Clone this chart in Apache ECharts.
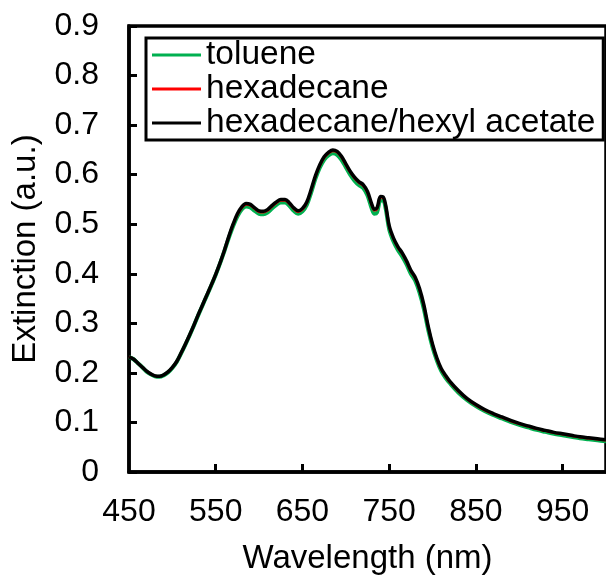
<!DOCTYPE html>
<html>
<head>
<meta charset="utf-8">
<script src="https://cdn.jsdelivr.net/npm/echarts@6/dist/echarts.min.js"></script>
<style>
  html, body { margin: 0; padding: 0; background: #fff; }
  #chart { width: 606px; height: 580px; }
</style>
</head>
<body>
<div id="chart"></div>
<script>
// Extinction spectra of the same nanoparticle batch dispersed in three solvents
const wavelengths = [
  450, 455, 460, 465, 470, 475, 480, 485, 490, 495,
  500, 505, 510, 515, 520, 525, 530, 535, 540, 545,
  550, 555, 560, 565, 570, 575, 580, 585, 590, 595,
  600, 605, 610, 615, 620, 625, 630, 635, 640, 645,
  650, 655, 660, 665, 670, 675, 680, 685, 690, 695,
  700, 705, 710, 715, 720, 725, 730, 733, 736, 740,
  743, 746, 750, 755, 760, 765, 770, 775, 780, 785,
  790, 795, 800, 805, 810, 815, 820, 830, 840, 850,
  860, 870, 880, 890, 900, 910, 920, 930, 940, 950,
  960, 970, 980, 990, 1000
];

const toluene = [
  0.232, 0.228, 0.220, 0.212, 0.203, 0.197, 0.193, 0.192, 0.195, 0.201,
  0.210, 0.222, 0.239, 0.257, 0.276, 0.296, 0.317, 0.337, 0.357, 0.377,
  0.398, 0.421, 0.446, 0.472, 0.496, 0.516, 0.530, 0.536, 0.534, 0.527,
  0.521, 0.520, 0.524, 0.532, 0.539, 0.544, 0.544, 0.537, 0.527, 0.521,
  0.526, 0.539, 0.564, 0.592, 0.614, 0.630, 0.639, 0.643, 0.640, 0.630,
  0.615, 0.600, 0.588, 0.579, 0.573, 0.558, 0.531, 0.521, 0.524, 0.548,
  0.548, 0.531, 0.490, 0.465, 0.448, 0.435, 0.419, 0.400, 0.386, 0.362,
  0.329, 0.287, 0.252, 0.225, 0.204, 0.190, 0.179, 0.160, 0.145, 0.133,
  0.123, 0.115, 0.108, 0.101, 0.095, 0.090, 0.085, 0.081, 0.077, 0.074,
  0.071, 0.068, 0.066, 0.064, 0.062
];

const hexadecane = [
  0.232, 0.228, 0.220, 0.212, 0.204, 0.198, 0.194, 0.193, 0.196, 0.202,
  0.211, 0.223, 0.240, 0.258, 0.277, 0.297, 0.318, 0.338, 0.358, 0.378,
  0.399, 0.422, 0.447, 0.474, 0.499, 0.519, 0.533, 0.540, 0.538, 0.531,
  0.525, 0.524, 0.528, 0.536, 0.543, 0.548, 0.548, 0.541, 0.531, 0.525,
  0.530, 0.543, 0.568, 0.596, 0.618, 0.634, 0.643, 0.648, 0.645, 0.635,
  0.620, 0.605, 0.593, 0.584, 0.578, 0.564, 0.538, 0.528, 0.531, 0.554,
  0.553, 0.536, 0.495, 0.470, 0.453, 0.440, 0.424, 0.405, 0.391, 0.368,
  0.335, 0.292, 0.256, 0.228, 0.207, 0.193, 0.181, 0.162, 0.147, 0.135,
  0.125, 0.117, 0.110, 0.103, 0.097, 0.092, 0.087, 0.083, 0.079, 0.076,
  0.073, 0.070, 0.068, 0.066, 0.064
];

const hexadecaneHexylAcetate = [
  0.232, 0.228, 0.220, 0.212, 0.204, 0.198, 0.194, 0.193, 0.196, 0.202,
  0.211, 0.223, 0.240, 0.258, 0.277, 0.297, 0.318, 0.338, 0.358, 0.378,
  0.399, 0.422, 0.447, 0.475, 0.500, 0.521, 0.535, 0.542, 0.540, 0.533,
  0.527, 0.526, 0.530, 0.538, 0.545, 0.550, 0.550, 0.543, 0.533, 0.527,
  0.532, 0.545, 0.570, 0.598, 0.620, 0.636, 0.645, 0.650, 0.647, 0.637,
  0.622, 0.607, 0.595, 0.586, 0.580, 0.566, 0.540, 0.530, 0.533, 0.556,
  0.555, 0.538, 0.497, 0.472, 0.455, 0.442, 0.426, 0.407, 0.393, 0.370,
  0.337, 0.294, 0.258, 0.230, 0.209, 0.195, 0.183, 0.164, 0.148, 0.136,
  0.126, 0.118, 0.111, 0.104, 0.098, 0.093, 0.088, 0.084, 0.080, 0.077,
  0.074, 0.071, 0.069, 0.067, 0.065
];

const seriesNames = ['toluene', 'hexadecane', 'hexadecane/hexyl acetate'];
const seriesColors = ['#00B050', '#FF0000', '#000000'];
const seriesWidths = [4, 2.5, 3.5];
const xLabelValues = [450, 550, 650, 750, 850, 950];
const xTickValues = [550, 650, 750, 850, 950];

const FONT = '"Liberation Sans", Arial, sans-serif';

function pairs(ys) {
  return wavelengths.map((w, i) => [w, ys[i]]);
}

const chart = echarts.init(document.getElementById('chart'), null, { renderer: 'canvas' });

chart.setOption({
  animation: false,
  backgroundColor: '#ffffff',
  grid: {
    left: 129,
    top: 26,
    width: 485,
    height: 449,
    show: true,
    borderColor: '#000',
    borderWidth: 3.5,
    containLabel: false
  },
  legend: {
    orient: 'vertical',
    left: 146,
    top: 38,
    padding: [0, 8, 0, 6],
    itemGap: 0,
    itemWidth: 49,
    itemHeight: 3,
    icon: 'rect',
    borderColor: '#000',
    borderWidth: 3,
    backgroundColor: '#fff',
    data: seriesNames,
    textStyle: {
      fontFamily: FONT,
      fontSize: 33.5,
      color: '#000',
      lineHeight: 34,
      padding: [0, 0, 0, 0]
    }
  },
  xAxis: {
    type: 'value',
    min: 450,
    max: 1000,
    name: 'Wavelength (nm)',
    nameLocation: 'middle',
    nameGap: 70,
    nameTextStyle: { fontFamily: FONT, fontSize: 33, color: '#000' },
    axisLine: { show: true, lineStyle: { color: '#000', width: 3.5 } },
    axisTick: {
      show: true, inside: true, length: 8,
      customValues: xTickValues,
      lineStyle: { color: '#000', width: 3 }
    },
    axisLabel: {
      fontFamily: FONT, fontSize: 32, color: '#000', margin: 24,
      customValues: xLabelValues
    },
    splitLine: { show: false }
  },
  yAxis: {
    type: 'value',
    min: 0,
    max: 0.9,
    interval: 0.1,
    name: 'Extinction (a.u.)',
    nameLocation: 'middle',
    nameGap: 87,
    nameRotate: 90,
    nameTextStyle: { fontFamily: FONT, fontSize: 33, color: '#000' },
    axisLine: { show: true, lineStyle: { color: '#000', width: 3.5 } },
    axisTick: { show: true, inside: true, length: 8, lineStyle: { color: '#000', width: 3 } },
    axisLabel: {
      fontFamily: FONT, fontSize: 32, color: '#000', margin: 30,
      formatter: v => String(+v.toFixed(1))
    },
    splitLine: { show: false }
  },
  series: [toluene, hexadecane, hexadecaneHexylAcetate].map((ys, i) => ({
    name: seriesNames[i],
    type: 'line',
    data: pairs(ys),
    showSymbol: false,
    symbol: 'none',
    smooth: 0.35,
    color: seriesColors[i],
    lineStyle: { color: seriesColors[i], width: seriesWidths[i] },
    z: 2 + i
  }))
});
</script>
</body>
</html>
